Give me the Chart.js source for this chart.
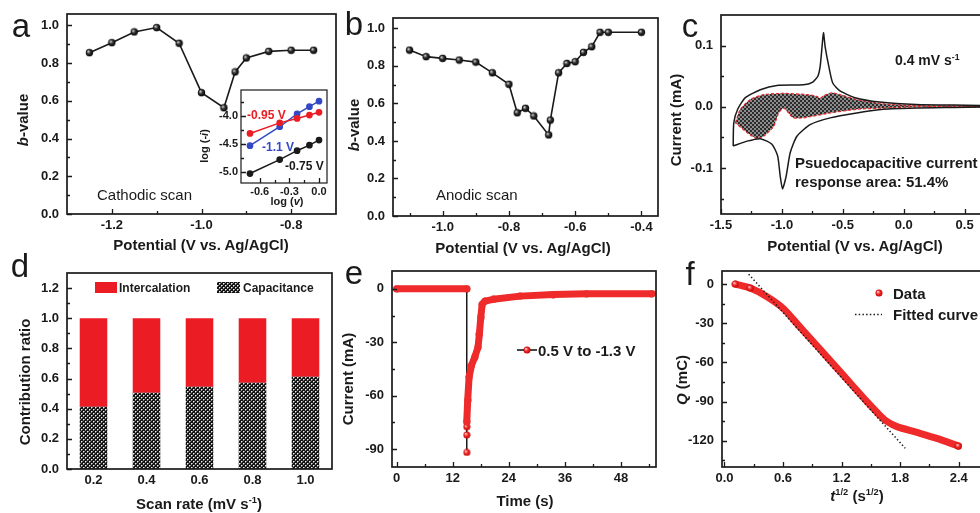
<!DOCTYPE html>
<html>
<head>
<meta charset="utf-8">
<script src="https://cdn.jsdelivr.net/npm/chart.js@4.4.1/dist/chart.umd.min.js"></script>
<style>
html, body { margin: 0; padding: 0; background: #fff; }
#fig { position: relative; width: 980px; height: 513px; overflow: hidden; font-family: "Liberation Sans", Arial, sans-serif; color: #1a1a1a; }
#fig canvas { position: absolute; }
.t { position: absolute; white-space: nowrap; line-height: 1; font-weight: bold; }
.t sup { font-size: 0.62em; line-height: 0; vertical-align: 0.55em; }
</style>
</head>
<body>
<div id="fig"></div>
<script>
// ---- a: b-value, cathodic scan
const aPotential = [-1.25, -1.2, -1.15, -1.1, -1.05, -1.0, -0.95, -0.925, -0.9, -0.85, -0.8, -0.75];
const aBValue = [0.855, 0.908, 0.965, 0.988, 0.905, 0.643, 0.563, 0.753, 0.827, 0.862, 0.868, 0.868];
const aXTicks = [-1.2, -1.0, -0.8], aXMinor = [-1.1, -0.9];
const bYTicks = [0, 0.2, 0.4, 0.6, 0.8, 1.0], bYMinor = [0.1, 0.3, 0.5, 0.7, 0.9];

// inset of a: log(i) vs log(v)
const insetLogV = [-0.699, -0.398, -0.222, -0.097, 0];
const insetN075 = [-5.03, -4.78, -4.62, -4.52, -4.43];
const insetN095 = [-4.31, -4.12, -4.04, -3.98, -3.93];
const insetN110 = [-4.53, -4.19, -3.96, -3.83, -3.73];
const insetXTicks = [-0.6, -0.3, 0.0], insetYTicks = [-5.0, -4.5, -4.0];

// ---- b: b-value, anodic scan
const bPotential = [-1.1, -1.05, -1.0, -0.95, -0.9, -0.85, -0.8, -0.775, -0.75, -0.725, -0.68, -0.675, -0.65, -0.625, -0.6, -0.575, -0.55, -0.525, -0.5, -0.4];
const bBValue = [0.884, 0.849, 0.840, 0.831, 0.820, 0.763, 0.702, 0.550, 0.574, 0.533, 0.432, 0.511, 0.763, 0.813, 0.822, 0.872, 0.902, 0.979, 0.979, 0.979];
const bXTicks = [-1.0, -0.8, -0.6, -0.4], bXMinor = [-1.1, -0.9, -0.7, -0.5];

// ---- c: CV at 0.4 mV/s and capacitive part
const cvPotential = [-1.40, -1.395, -1.363, -1.30, -1.177, -1.041, -0.823, -0.75, -0.705, -0.686, -0.672, -0.659, -0.645, -0.615, -0.583, -0.523, -0.40, -0.20, 0.10, 0.70, 0.70, 0.105, -0.168, -0.386, -0.604, -0.768, -0.877, -0.932, -0.965, -0.995, -1.014, -1.035, -1.082, -1.177, -1.286, -1.40];
const cvCurrent = [-0.064, -0.026, -0.004, 0.015, 0.028, 0.035, 0.036, 0.040, 0.050, 0.066, 0.095, 0.121, 0.098, 0.066, 0.039, 0.026, 0.015, 0.008, 0.004, 0.002, 0.0, -0.002, -0.004, -0.010, -0.018, -0.029, -0.048, -0.075, -0.113, -0.134, -0.113, -0.080, -0.061, -0.052, -0.056, -0.064];
const capPotential = [-1.382, -1.341, -1.259, -1.15, -0.986, -0.795, -0.714, -0.686, -0.659, -0.591, -0.523, -0.386, -0.168, 0.105, 0.70, 0.70, 0.105, -0.168, -0.386, -0.604, -0.823, -0.905, -0.945, -0.986, -1.027, -1.068, -1.15, -1.205, -1.286, -1.382];
const capCurrent = [-0.026, -0.004, 0.012, 0.020, 0.022, 0.020, 0.017, 0.014, 0.018, 0.023, 0.020, 0.012, 0.005, 0.002, 0.001, 0.0, 0.0, -0.002, -0.004, -0.010, -0.018, -0.018, -0.010, -0.002, -0.010, -0.032, -0.048, -0.052, -0.042, -0.026];
const cXTicks = [-1.5, -1.0, -0.5, 0.0, 0.5], cXMinor = [-1.25, -0.75, -0.25, 0.25];
const cYTicks = [-0.1, 0.0, 0.1], cYMinor = [-0.15, -0.05, 0.05];

// ---- d: contribution ratio
const dScanRate = ['0.2', '0.4', '0.6', '0.8', '1.0'];
const dCapacitance = [0.413, 0.506, 0.546, 0.572, 0.612];
const dIntercalation = [0.587, 0.494, 0.454, 0.428, 0.388];
const dYTicks = [0, 0.2, 0.4, 0.6, 0.8, 1.0, 1.2], dYMinor = [0.1, 0.3, 0.5, 0.7, 0.9, 1.1];

// ---- e: current step 0.5 V to -1.3 V
const eTime = [0, 15, 15, 15, 15, 15, 15.2, 15.5, 16.0, 16.7, 17.4, 17.7, 18.0, 18.3, 18.9, 20.7, 26.4, 33.5, 40.6, 54.6];
const eCurrent = [0, 0, -91.8, -82, -77.4, -74.6, -62.5, -49.5, -43, -38.4, -32.8, -25.4, -16, -8.7, -6.9, -5.9, -4.1, -3.2, -2.8, -2.7];
const eXTicks = [0, 12, 24, 36, 48], eXMinor = [6, 18, 30, 42, 54];
const eYTicks = [-90, -60, -30, 0], eYMinor = [-75, -45, -15];

// ---- f: Q vs t^1/2
const fSqrtT = [0.112, 0.265, 0.436, 0.606, 0.777, 0.948, 1.118, 1.289, 1.46, 1.596, 1.664, 1.767, 1.971, 2.176, 2.397];
const fCharge = [0, -3.1, -9.7, -18.9, -33.2, -47.2, -61.5, -75.7, -90.0, -100.7, -105.1, -109.1, -113.5, -118.1, -124.0];
const fitSqrtT = [0.248, 1.852], fitCharge = [7.6, -125.7];
const fXTicks = [0, 0.6, 1.2, 1.8, 2.4], fXMinor = [0.3, 0.9, 1.5, 2.1];
const fYTicks = [-120, -90, -60, -30, 0], fYMinor = [-135, -105, -75, -45, -15];

const RED = '#ec1c24', BLUE = '#3348c4', INK = '#1a1a1a';

Chart.defaults.font.family = '"Liberation Sans", Arial, sans-serif';
Chart.defaults.font.size = 13;
Chart.defaults.font.weight = 'bold';
Chart.defaults.color = INK;

const fig = document.getElementById('fig');
const xy = (xs, ys) => xs.map((x, i) => ({ x: x, y: ys[i] }));

function sphere(r, hi, mid, lo) {
    const c = document.createElement('canvas');
    const s = Math.ceil(2 * r + 1);
    c.width = c.height = s;
    const g = c.getContext('2d');
    const m = s / 2;
    const grad = g.createRadialGradient(m - r * 0.35, m - r * 0.35, r * 0.1, m, m, r);
    grad.addColorStop(0, hi);
    grad.addColorStop(0.45, mid);
    grad.addColorStop(1, lo);
    g.fillStyle = grad;
    g.beginPath();
    g.arc(m, m, r, 0, Math.PI * 2);
    g.fill();
    return c;
}
const blackBall = sphere(3.7, '#d0d0d0', '#333', '#000');
const redBall = sphere(3.5, '#ffd0d0', '#f03030', '#c80000');

function tilePattern(base, dots) {
    const t = document.createElement('canvas');
    t.width = t.height = 4;
    const g = t.getContext('2d');
    g.fillStyle = base;
    g.fillRect(0, 0, 4, 4);
    dots.forEach(([x, y, col]) => { g.fillStyle = col; g.fillRect(x, y, 1, 1); });
    return g.createPattern(t, 'repeat');
}
const checkPattern = tilePattern('#141414', [[0, 0, '#f0f0f0'], [2, 2, '#f0f0f0'], [1, 0, '#888'], [0, 1, '#888'], [3, 2, '#888'], [2, 3, '#888']]);
const hatchPattern = tilePattern('#2c2c2c', [[0, 0, '#8c8c8c'], [1, 1, '#8c8c8c'], [2, 2, '#8c8c8c'], [3, 3, '#8c8c8c'], [3, 0, '#8c8c8c'], [2, 1, '#8c8c8c'], [1, 2, '#8c8c8c'], [0, 3, '#8c8c8c']]);

// frame box and inward ticks, like the Origin style
const frameTicks = {
    id: 'frameTicks',
    afterDatasetsDraw(chart, args, o) {
        const ctx = chart.ctx, a = chart.chartArea;
        const sx = chart.scales.x, sy = chart.scales.y;
        ctx.save();
        ctx.strokeStyle = INK;
        ctx.lineWidth = 1.3;
        ctx.beginPath();
        const mark = (list, len, horiz) => (list || []).forEach(v => {
            if (horiz) {
                const p = Math.round(sx.getPixelForValue(v)) + 0.5;
                ctx.moveTo(p, a.bottom); ctx.lineTo(p, a.bottom - len);
            } else {
                const p = Math.round(sy.getPixelForValue(v)) + 0.5;
                ctx.moveTo(a.left, p); ctx.lineTo(a.left + len, p);
            }
        });
        mark(o.xMajor, 5, true); mark(o.xMinor, 3, true);
        mark(o.yMajor, 5, false); mark(o.yMinor, 3, false);
        ctx.stroke();
        ctx.lineWidth = o.lw || 1.7;
        ctx.strokeRect(a.left, a.top, a.right - a.left, a.bottom - a.top);
        ctx.restore();
    }
};

function axis(min, max, ticks, dec, pad, size) {
    return {
        type: 'linear', min: min, max: max,
        grid: { display: false, drawTicks: false },
        border: { display: false },
        afterBuildTicks: s => { s.ticks = ticks.map(v => ({ value: v })); },
        ticks: { padding: pad, font: { size: size || 13 }, callback: v => Number(v).toFixed(dec) }
    };
}

function makeChart(frame, padL, padB, cfg, extra) {
    // top padding must exceed half a tick label + tick padding, or chart.js shrinks the area
    const padT = 22, padR = 12;
    const cv = document.createElement('canvas');
    cv.width = frame.r - frame.l + padL + padR;
    cv.height = frame.b - frame.t + padT + padB;
    const ox = frame.l - padL, oy = frame.t - padT;
    cv.style.left = ox + 'px';
    cv.style.top = oy + 'px';
    fig.appendChild(cv);
    const o = cfg.options;
    o.responsive = false;
    o.animation = false;
    o.devicePixelRatio = 1;
    o.events = [];
    o.layout = { padding: { top: padT, right: padR, left: 0, bottom: 0 } };
    o.scales.x.afterFit = s => { s.height = padB; };
    o.scales.y.afterFit = s => { s.width = padL; };
    o.plugins = Object.assign({ legend: { display: false }, tooltip: { enabled: false } }, o.plugins || {});
    cfg.plugins = [frameTicks];
    if (extra) {
        cfg.plugins.push({
            id: 'extra',
            beforeDatasetsDraw(chart) { if (extra.before) extra.before(chart.ctx, chart); },
            afterDraw(chart) {
                if (!extra.after) return;
                chart.ctx.save();
                extra.after(chart.ctx, (x) => x - ox, (y) => y - oy);
                chart.ctx.restore();
            }
        });
    }
    return new Chart(cv, cfg);
}

// ---------- panel a
makeChart({ l: 67, t: 14, r: 336, b: 214 }, 60, 40, {
    type: 'scatter',
    data: { datasets: [{
        data: xy(aPotential, aBValue), showLine: true,
        borderColor: INK, borderWidth: 1.6, pointStyle: blackBall, pointRadius: 4
    }] },
    options: {
        scales: { x: axis(-1.3, -0.7, aXTicks, 1, 4), y: axis(0, 1.06, bYTicks, 1, 8) },
        plugins: { frameTicks: { xMajor: aXTicks, xMinor: aXMinor, yMajor: bYTicks, yMinor: bYMinor } }
    }
});

// ---------- inset of a
makeChart({ l: 241, t: 90, r: 327, b: 183 }, 30, 18, {
    type: 'scatter',
    data: { datasets: [
        { data: xy(insetLogV, insetN095), showLine: true, borderColor: RED, backgroundColor: RED, borderWidth: 1.5, pointRadius: 2.6 },
        { data: xy(insetLogV, insetN110), showLine: true, borderColor: BLUE, backgroundColor: BLUE, borderWidth: 1.5, pointRadius: 2.6 },
        { data: xy(insetLogV, insetN075), showLine: true, borderColor: INK, backgroundColor: INK, borderWidth: 1.5, pointRadius: 2.6 }
    ] },
    options: {
        scales: { x: axis(-0.79, 0.081, insetXTicks, 1, 2, 11), y: axis(-5.2, -3.53, insetYTicks, 1, 3, 11) },
        plugins: { frameTicks: { xMajor: insetXTicks, xMinor: [-0.45, -0.15], yMajor: insetYTicks, yMinor: [-4.75, -4.25, -3.75], lw: 1.2 } }
    }
}, {
    before(ctx, chart) {
        const a = chart.chartArea;
        ctx.save(); ctx.fillStyle = '#fff'; ctx.fillRect(a.left, a.top, a.right - a.left, a.bottom - a.top); ctx.restore();
    }
});

// ---------- panel b
makeChart({ l: 393, t: 18, r: 658, b: 216 }, 50, 40, {
    type: 'scatter',
    data: { datasets: [{
        data: xy(bPotential, bBValue), showLine: true,
        borderColor: INK, borderWidth: 1.6, pointStyle: blackBall, pointRadius: 4
    }] },
    options: {
        scales: { x: axis(-1.15, -0.35, bXTicks, 1, 4), y: axis(0, 1.055, bYTicks, 1, 8) },
        plugins: { frameTicks: { xMajor: bXTicks, xMinor: bXMinor, yMajor: bYTicks, yMinor: bYMinor } }
    }
});

// ---------- panel c
makeChart({ l: 721, t: 15, r: 989, b: 214 }, 50, 40, {
    type: 'scatter',
    data: { datasets: [
        { data: xy(cvPotential, cvCurrent), showLine: true, borderColor: INK, borderWidth: 1.5, pointRadius: 0, tension: 0.2, order: 0 },
        { data: xy(capPotential, capCurrent), showLine: true, borderColor: '#e8262a', borderWidth: 1.2, borderDash: [3, 2],
          backgroundColor: hatchPattern, fill: 'shape', pointRadius: 0, tension: 0.2, order: 1 }
    ] },
    options: {
        scales: { x: axis(-1.5, 0.7, cXTicks, 1, 4), y: axis(-0.175, 0.15, cYTicks, 1, 8) },
        plugins: { frameTicks: { xMajor: cXTicks, xMinor: cXMinor, yMajor: cYTicks, yMinor: cYMinor } }
    }
});

// ---------- panel d
const dY = axis(0, 1.3, dYTicks, 1, 8);
dY.stacked = true;
makeChart({ l: 67, t: 273, r: 332, b: 469 }, 60, 40, {
    type: 'bar',
    data: { labels: dScanRate, datasets: [
        { label: 'Capacitance', data: dCapacitance, backgroundColor: checkPattern, barPercentage: 0.52, categoryPercentage: 1 },
        { label: 'Intercalation', data: dIntercalation, backgroundColor: RED, barPercentage: 0.52, categoryPercentage: 1 }
    ] },
    options: {
        scales: {
            x: { type: 'category', stacked: true, grid: { display: false, drawTicks: false }, border: { display: false }, ticks: { padding: 4 } },
            y: dY
        },
        plugins: { frameTicks: { yMajor: dYTicks, yMinor: dYMinor } }
    }
}, {
    after(ctx, px, py) {
        ctx.fillStyle = RED;
        ctx.fillRect(px(95), py(282), 22, 11);
        ctx.fillStyle = checkPattern;
        ctx.fillRect(px(217), py(282), 23, 11);
    }
});

// ---------- panel e
makeChart({ l: 392, t: 271, r: 656, b: 467 }, 50, 40, {
    type: 'scatter',
    data: { datasets: [
        { data: eTime.map((t, i) => ({ x: t, y: (i <= 1 || i >= 5) ? eCurrent[i] : null })), showLine: true,
          borderColor: '#ee2a2a', borderWidth: 7, borderCapStyle: 'round', borderJoinStyle: 'round', pointRadius: 0, spanGaps: false, order: 0 },
        { data: xy(eTime, eCurrent), showLine: true, borderColor: INK, borderWidth: 1.5, pointStyle: redBall, pointRadius: 4, order: 1 }
    ] },
    options: {
        scales: { x: axis(-1, 55.5, eXTicks, 0, 4), y: axis(-100, 10, eYTicks, 0, 8) },
        plugins: { frameTicks: { xMajor: eXTicks, xMinor: eXMinor, yMajor: eYTicks, yMinor: eYMinor } }
    }
}, {
    after(ctx, px, py) {
        ctx.strokeStyle = INK; ctx.lineWidth = 1.6;
        ctx.beginPath(); ctx.moveTo(px(517), py(350)); ctx.lineTo(px(537), py(350)); ctx.stroke();
        ctx.drawImage(redBall, px(527) - redBall.width / 2, py(350) - redBall.height / 2);
    }
});

// ---------- panel f
makeChart({ l: 722, t: 271, r: 988, b: 467 }, 50, 40, {
    type: 'scatter',
    data: { datasets: [
        { data: xy(fitSqrtT, fitCharge), showLine: true, borderColor: INK, borderWidth: 1.5, borderDash: [1.5, 2.2], pointRadius: 0, order: 0 },
        { data: xy(fSqrtT, fCharge), showLine: true, borderColor: '#ee2a2a', borderWidth: 7, borderCapStyle: 'round', borderJoinStyle: 'round',
          pointStyle: redBall, pointRadius: fSqrtT.map((t, i) => (i < 2 || i === fSqrtT.length - 1) ? 4 : 0), tension: 0.25, order: 1 }
    ] },
    options: {
        scales: { x: axis(-0.025, 2.7, fXTicks, 1, 4), y: axis(-140, 10, fYTicks, 0, 8) },
        plugins: { frameTicks: { xMajor: fXTicks, xMinor: fXMinor, yMajor: fYTicks, yMinor: fYMinor } }
    }
}, {
    after(ctx, px, py) {
        ctx.drawImage(redBall, px(879) - redBall.width / 2, py(293) - redBall.height / 2);
        ctx.strokeStyle = INK; ctx.lineWidth = 1.5; ctx.setLineDash([1.5, 2.2]);
        ctx.beginPath(); ctx.moveTo(px(855), py(314.5)); ctx.lineTo(px(882), py(314.5)); ctx.stroke();
    }
});

// ---------- texts
function txt(html, x, y, o) {
    o = o || {};
    const d = document.createElement('div');
    d.className = 't';
    d.innerHTML = html;
    d.style.left = x + 'px';
    d.style.top = y + 'px';
    d.style.fontSize = (o.size || 15) + 'px';
    if (o.weight) d.style.fontWeight = o.weight;
    if (o.color) d.style.color = o.color;
    d.style.transform = o.rot ? 'translate(-50%,-50%) rotate(-90deg)' : (o.left ? 'translate(0,-50%)' : 'translate(-50%,-50%)');
    fig.appendChild(d);
}

// panel letters
[['a', 21, 25], ['b', 354, 23], ['c', 690, 25], ['d', 20, 265], ['e', 354, 272], ['f', 690, 273]]
    .forEach(([s, x, y]) => txt(s, x, y, { size: 33, weight: 'normal' }));

// axis titles
txt('<i>b</i>-value', 22, 120, { rot: true });
txt('Potential (V vs. Ag/AgCl)', 201, 244);
txt('log (-<i>i</i>)', 204, 146, { rot: true, size: 11 });
txt('log (<i>v</i>)', 287, 201, { size: 11 });
txt('<i>b</i>-value', 353, 125, { rot: true });
txt('Potential (V vs. Ag/AgCl)', 523, 247);
txt('Current (mA)', 675, 120, { rot: true });
txt('Potential (V vs. Ag/AgCl)', 855, 245);
txt('Contribution ratio', 24, 382, { rot: true });
txt('Scan rate (mV s<sup>-1</sup>)', 199, 503);
txt('Current (mA)', 347, 379, { rot: true });
txt('Time (s)', 525, 500);
txt('<i>Q</i> (mC)', 681, 380, { rot: true });
txt('<i>t</i><sup>1/2</sup> (s<sup>1/2</sup>)', 857, 495);

// annotations
txt('Cathodic scan', 97, 194, { left: true, weight: 'normal' });
txt('Anodic scan', 436, 194, { left: true, weight: 'normal' });
txt('-0.95 V', 247, 115, { left: true, size: 12, color: RED });
txt('-1.1 V', 262, 147, { left: true, size: 12, color: BLUE });
txt('-0.75 V', 285, 166, { left: true, size: 12 });
txt('0.4 mV s<sup>-1</sup>', 895, 60, { left: true, size: 14 });
txt('Psuedocapacitive current', 795, 162, { left: true });
txt('response area: 51.4%', 795, 181, { left: true });
txt('Intercalation', 119, 288, { left: true, size: 12 });
txt('Capacitance', 243, 288, { left: true, size: 12 });
txt('0.5 V to -1.3 V', 538, 350, { left: true });
txt('Data', 893, 293, { left: true });
txt('Fitted curve', 893, 314, { left: true });
</script>
</body>
</html>
